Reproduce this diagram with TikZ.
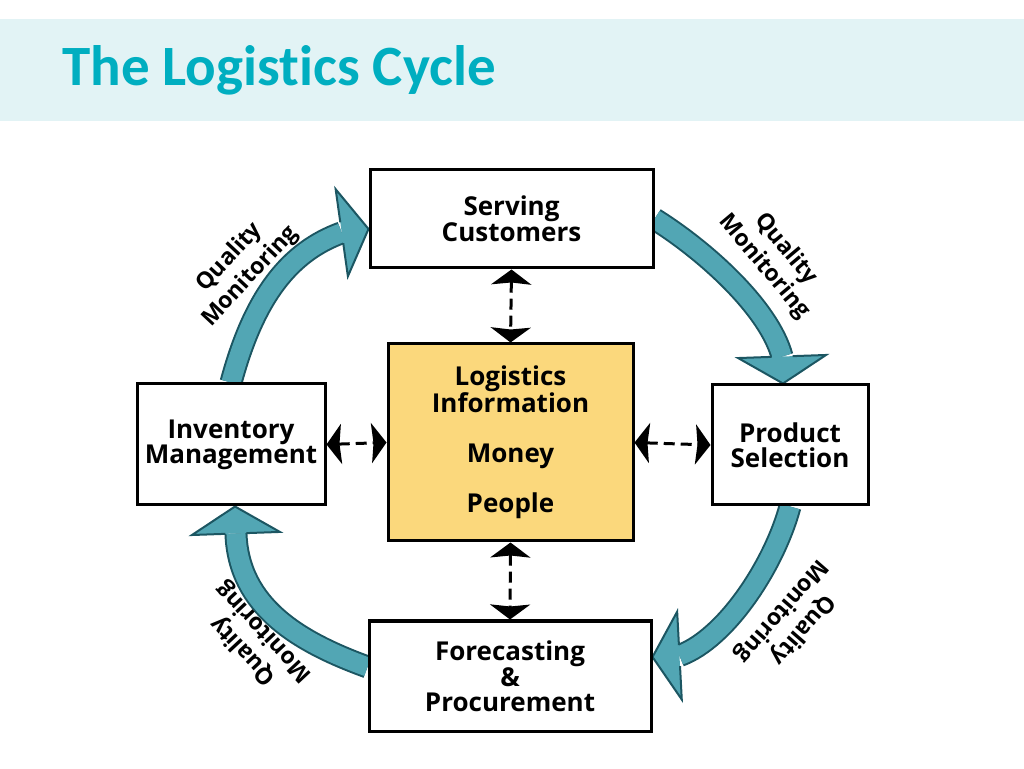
\documentclass[tikz,border=0pt]{standalone}
\usepackage{fontspec}
\newfontfamily\titlefont[Ligatures=NoCommon]{Carlito}
\newfontfamily\boxfont{Open Sans}
\usetikzlibrary{arrows.meta,backgrounds,calc}
\definecolor{titleteal}{RGB}{0,174,192}
\definecolor{bandcyan}{RGB}{226,243,245}
\definecolor{cyclefill}{RGB}{82,166,180}
\definecolor{cycleline}{RGB}{28,86,98}
\definecolor{infoyellow}{RGB}{251,216,124}

\begin{document}
\begin{tikzpicture}[x=1pt,y=1pt]
\tikzstyle{stage}=[draw,line width=3pt,fill=white,align=center,inner sep=0pt,font=\boxfont\bfseries\fontsize{26}{25}\selectfont]
\tikzstyle{link}=[line width=3pt,dash pattern=on 11pt off 6pt,{Stealth[length=15pt,width=40pt,inset=2pt]}-{Stealth[length=15pt,width=40pt,inset=2pt]}]
\tikzstyle{cyclebody}=[line width=2pt,draw=cycleline,double=cyclefill,double distance=19pt]
\tikzstyle{cyclehead}=[line width=2pt,draw=cycleline,fill=cyclefill,line join=miter]
\tikzstyle{qlabel}=[align=center,inner sep=0pt,font=\boxfont\bfseries\fontsize{23}{28}\selectfont]
\useasboundingbox (0,0) rectangle (1024,768);

% title
\node[anchor=base west,inner sep=0pt,text=titleteal,font=\titlefont\bfseries\fontsize{57}{60}\selectfont] (title) at (62,682) {The Logistics Cycle};

% stages
\node[stage,minimum width=283pt,minimum height=98pt] (serv) at (511.5,549) {Serving\\Customers};
\node[stage,minimum width=188pt,minimum height=121pt] (inv) at (231,323.5) {Inventory\\Management};
\node[stage,minimum width=156pt,minimum height=120pt] (prod) at (790,323) {Product\\Selection};
\node[stage,minimum width=282pt,minimum height=110pt] (fore) at (510,92) {Forecasting\\\&\\Procurement};
\node[stage,fill=infoyellow,minimum width=245pt,minimum height=197pt,font=\boxfont\bfseries\fontsize{26}{23}\selectfont] (info) at (510.5,325.5) {Logistics\\Information\\[27pt]Money\\[23pt]People};

% links to the centre
\draw[link] (serv.south) -- (info.north);
\draw[link] (inv.east) -- (info.west);
\draw[link] (info.east) -- (prod.west);
\draw[link] (info.south) -- (fore.north);

% quality monitoring cycle: tips (t), head bases (h)
\coordinate (t1) at ([yshift=-10pt]serv.west);
\coordinate (h1) at ($(t1)+(188:27pt)$);
\coordinate (t2) at ([xshift=-7pt]prod.north);
\coordinate (h2) at ($(t2)+(92:27pt)$);
\coordinate (t3) at ([yshift=19pt]fore.east);
\coordinate (h3) at ($(t3)+(3:27pt)$);
\coordinate (t4) at ([xshift=4pt]inv.south);
\coordinate (h4) at ($(t4)+(-88:27pt)$);
\begin{scope}[on background layer]
\fill[bandcyan] (0,647) rectangle (1024,749);
\draw[cyclebody] (inv.north) .. controls +(75:90) and +(200:55) .. (h1);
\draw[cyclebody] (serv.east) .. controls +(-32:60) and +(105:50) .. (h2);
\draw[cyclebody] (prod.south) .. controls +(-105:60) and +(20:50) .. (h3);
\draw[cyclebody] ([yshift=9pt]fore.west) to[out=160,in=-88] (h4);
\foreach \n in {1,2,3,4}
  \filldraw[cyclehead] ($(h\n)!10.5pt!90:(t\n)$) -- ($(h\n)!44pt!90:(t\n)$) -- (t\n)
    -- ($(h\n)!44pt!-90:(t\n)$) -- ($(h\n)!10.5pt!-90:(t\n)$);
\end{scope}

\node[qlabel,rotate=47] (q1) at (240,501) {Quality\\Monitoring};
\node[qlabel,rotate=-50] (q2) at (775,510) {Quality\\Monitoring};
\node[qlabel,rotate=229] (q3) at (792,148) {Quality\\Monitoring};
\node[qlabel,rotate=133] (q4) at (254,127) {Quality\\Monitoring};
\end{tikzpicture}
\end{document}
